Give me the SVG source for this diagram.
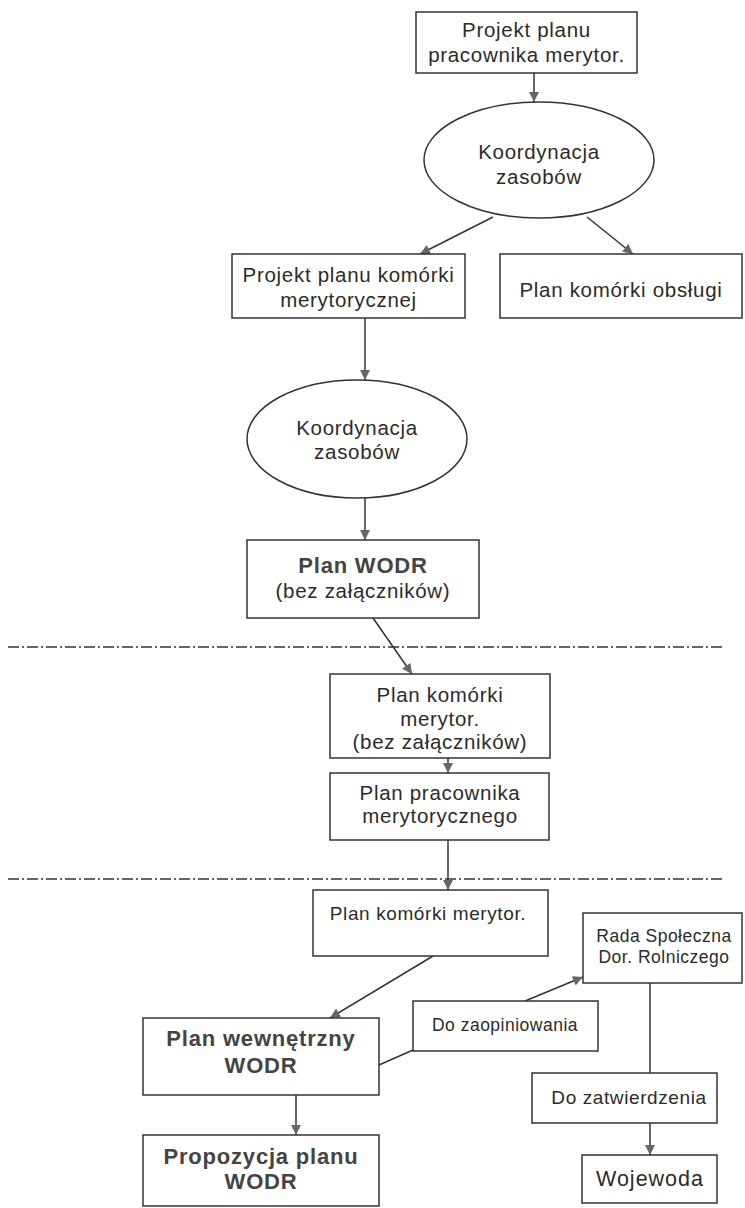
<svg xmlns="http://www.w3.org/2000/svg" width="745" height="1208" viewBox="0 0 745 1208">
<style>
.box{fill:#fff;stroke:#333;stroke-width:1.5}
.t{font-family:"Liberation Sans",Arial,sans-serif;font-size:20.5px;letter-spacing:0.7px;fill:#2b2b2b;text-anchor:middle}
.b{font-weight:bold;font-size:22px;letter-spacing:0.8px;fill:#444}
.s{font-size:17.5px;letter-spacing:0.5px}
.m{font-size:19px;letter-spacing:0.6px}
.w{font-size:21.5px;letter-spacing:1px}
.c{stroke:#333;stroke-width:1.5;fill:none}
.a{marker-end:url(#ah)}
.sep{stroke:#333;stroke-width:1.5;stroke-dasharray:11 3 2 3;fill:none}
</style>
<defs>
<marker id="ah" viewBox="0 0 10 10" refX="10" refY="5" markerWidth="11" markerHeight="10" markerUnits="userSpaceOnUse" orient="auto">
<path d="M0,0 L10,5 L0,10 z" fill="#666"/>
</marker>
</defs>
<rect width="745" height="1208" fill="#fff"/>
<g id="separators">
<line class="sep" x1="8" y1="647" x2="722" y2="647"/>
<line class="sep" x1="8" y1="879" x2="722" y2="879"/>
</g>
<g id="connectors">
<line class="c a" x1="534" y1="73" x2="534" y2="102"/>
<line class="c a" x1="493" y1="217" x2="420" y2="254"/>
<line class="c a" x1="587" y1="217" x2="633" y2="254"/>
<line class="c a" x1="365" y1="318" x2="365" y2="380"/>
<line class="c a" x1="365" y1="498" x2="365" y2="540"/>
<line class="c a" x1="373" y1="618" x2="412" y2="674"/>
<line class="c a" x1="448" y1="758" x2="448" y2="773"/>
<line class="c a" x1="448" y1="840" x2="448" y2="890"/>
<line class="c a" x1="433" y1="956" x2="330" y2="1018"/>
<line class="c" x1="379" y1="1065" x2="413" y2="1050"/>
<line class="c a" x1="525" y1="1001" x2="583" y2="977"/>
<line class="c" x1="650" y1="983" x2="650" y2="1073"/>
<line class="c a" x1="650" y1="1123" x2="650" y2="1155"/>
<line class="c a" x1="296" y1="1095" x2="296" y2="1135"/>
</g>
<g id="n1"><rect class="box" x="416" y="12" width="221" height="61"/>
<text class="t" x="526.5" y="37">Projekt planu</text><text class="t" x="526.5" y="62">pracownika merytor.</text></g>
<g id="n2"><ellipse class="box" cx="539" cy="160" rx="115" ry="58"/>
<text class="t" x="539" y="159">Koordynacja</text><text class="t" x="539" y="184">zasobów</text></g>
<g id="n3"><rect class="box" x="232" y="254" width="233" height="64"/>
<text class="t" x="348.5" y="282">Projekt planu komórki</text><text class="t" x="348.5" y="307">merytorycznej</text></g>
<g id="n4"><rect class="box" x="500" y="254" width="242" height="64"/>
<text class="t" x="621" y="297">Plan komórki obsługi</text></g>
<g id="n5"><ellipse class="box" cx="357" cy="439" rx="110" ry="59"/>
<text class="t" x="357" y="435">Koordynacja</text><text class="t" x="357" y="459">zasobów</text></g>
<g id="n6"><rect class="box" x="247" y="540" width="232" height="78"/>
<text class="t b" x="363" y="573">Plan WODR</text><text class="t" x="363" y="598">(bez załączników)</text></g>
<g id="n7"><rect class="box" x="330" y="674" width="220" height="84"/>
<text class="t" x="440" y="702">Plan komórki</text><text class="t" x="440" y="726">merytor.</text><text class="t" x="440" y="749">(bez załączników)</text></g>
<g id="n8"><rect class="box" x="330" y="773" width="219" height="67"/>
<text class="t" x="440" y="800">Plan pracownika</text><text class="t" x="440" y="823">merytorycznego</text></g>
<g id="n9"><rect class="box" x="313" y="890" width="235" height="66"/>
<text class="t m" x="428" y="920">Plan komórki merytor.</text></g>
<g id="n10"><rect class="box" x="583" y="913" width="159" height="70"/>
<text class="t s" x="664" y="942">Rada Społeczna</text><text class="t s" x="664" y="963">Dor. Rolniczego</text></g>
<g id="n11"><rect class="box" x="413" y="1001" width="185" height="50"/>
<text class="t s" x="505" y="1031">Do zaopiniowania</text></g>
<g id="n12"><rect class="box" x="143" y="1018" width="236" height="77"/>
<text class="t b" x="261" y="1046">Plan wewnętrzny</text><text class="t b" x="261" y="1073">WODR</text></g>
<g id="n13"><rect class="box" x="532" y="1073" width="185" height="50"/>
<text class="t m" x="629" y="1104">Do zatwierdzenia</text></g>
<g id="n14"><rect class="box" x="143" y="1135" width="236" height="71"/>
<text class="t b" x="261" y="1164">Propozycja planu</text><text class="t b" x="261" y="1189">WODR</text></g>
<g id="n15"><rect class="box" x="582" y="1155" width="135" height="48"/>
<text class="t w" x="650" y="1186">Wojewoda</text></g>
</svg>
